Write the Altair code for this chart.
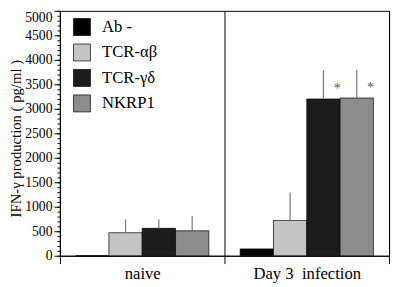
import altair as alt
import pandas as pd

groups = ["naive", "Day 3\u00a0\u00a0infection"]
series = ["Ab -", "TCR-αβ", "TCR-γδ", "NKRP1"]
naive_vals = [0, 470, 560, 510]
naive_err = [0, 270, 180, 300]
day3_vals = [140, 720, 3200, 3220]
day3_err = [0, 570, 580, 575]
day3_mark = ["", "", "*", "*"]
colors = ["#000000", "#c4c4c4", "#1c1c1c", "#8c8c8c"]
y_major = list(range(0, 5001, 500))
y_minor = list(range(0, 5001, 100))

rows = []
for g, vals, errs, marks in [
    (groups[0], naive_vals, naive_err, ["", "", "", ""]),
    (groups[1], day3_vals, day3_err, day3_mark),
]:
    for s, v, e, m in zip(series, vals, errs, marks):
        rows.append({"group": g, "series": s, "value": v, "top": v + e, "err": e, "mark": m})
df = pd.DataFrame(rows)

FONT = "Liberation Serif"

x = alt.X(
    "group:N",
    sort=groups,
    scale=alt.Scale(paddingInner=0, paddingOuter=0),
    axis=alt.Axis(
        title=None, labelAngle=0, tickBand="extent", grid=True, gridColor="#000",
        gridWidth=1, gridOpacity=1, tickSize=8, tickColor="#000", domainColor="#000",
        labelFont=FONT, labelFontSize=17, labelColor="#000", labelPadding=2,
    ),
)
xoff = alt.XOffset("series:N", sort=series, scale=alt.Scale(paddingInner=0, paddingOuter=0.47))
yscale = alt.Scale(domain=[0, 5000], nice=False)

bars = alt.Chart(df).mark_bar(stroke="#000", strokeWidth=0.7).encode(
    x=x,
    xOffset=xoff,
    y=alt.Y(
        "value:Q",
        scale=yscale,
        axis=alt.Axis(
            values=y_major, format="d", title="IFN-γ production ( pg/ml )", grid=False,
            orient="left", tickSize=6, tickColor="#000", domainColor="#000",
            labelFont=FONT, labelFontSize=14, labelColor="#000", labelPadding=2,
            labelBaseline={"condition": {"test": "datum.value >= 5000", "value": "top"}, "value": "middle"},
            titleFont=FONT, titleFontSize=15, titleFontWeight="normal", titleColor="#000",
            titleX=-37, titleY=130, titleBaseline="bottom", titleAngle=270,
        ),
    ),
    color=alt.Color(
        "series:N",
        sort=series,
        scale=alt.Scale(domain=series, range=colors),
        legend=alt.Legend(
            title=None, orient="none", legendX=13, legendY=7, symbolType="square",
            symbolSize=300, symbolStrokeColor="#000", symbolStrokeWidth=0.7,
            symbolOpacity=1, labelFont=FONT, labelFontSize=17, labelColor="#000",
            rowPadding=5, labelOffset=11,
        ),
    ),
)

minor = alt.Chart(df).mark_point(opacity=0).encode(
    y=alt.Y(
        "value:Q", scale=yscale,
        axis=alt.Axis(values=y_minor, labels=False, tickSize=3, tickColor="#000",
                      orient="left", domain=False, grid=False, title=None),
    ),
)

errs = alt.Chart(df).transform_filter("datum.err > 0").mark_rule(color="#777", strokeWidth=1.2).encode(
    x=x, xOffset=xoff, y=alt.Y("value:Q", scale=yscale, axis=None), y2="top:Q"
)

stars = alt.Chart(df).transform_filter("datum.mark != ''").mark_text(
    font=FONT, fontSize=14, color="#555", dx=14, dy=-10, baseline="middle"
).encode(x=x, xOffset=xoff, y=alt.Y("value:Q", scale=yscale, axis=None), text="mark:N")

chart = alt.layer(bars, minor, errs, stars).resolve_axis(y="independent").properties(
    width=336, height=250,
    padding={"left": 53, "top": 0, "right": 3, "bottom": 29},
    autosize=alt.AutoSizeParams(type="none"),
).configure_view(stroke="#000", strokeWidth=1)

chart.save("out.html", embed_options={"renderer": "svg", "actions": False})
